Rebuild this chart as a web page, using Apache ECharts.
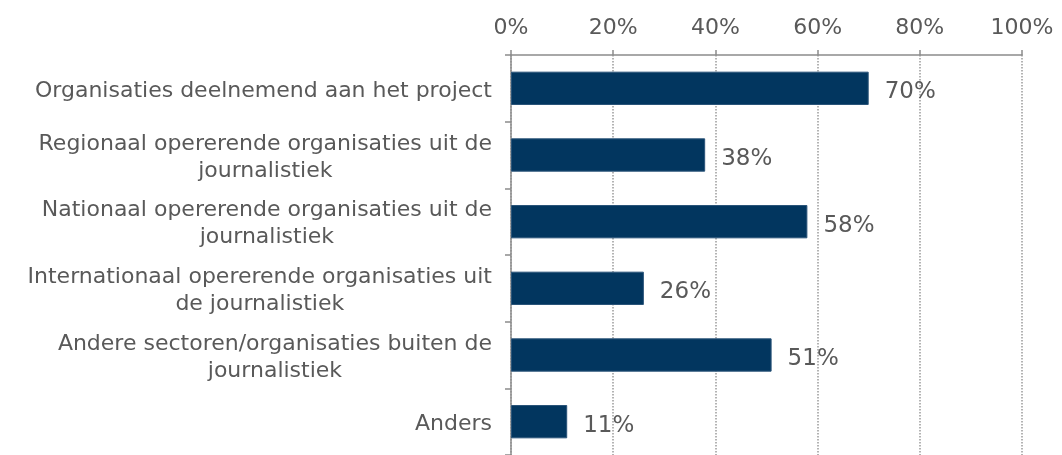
<!DOCTYPE html>
<html style="height: 100%">
<head>
<meta charset="utf-8">
<script src="https://cdn.jsdelivr.net/npm/echarts@6/dist/echarts.min.js"></script>
</head>
<body style="height: 100%; margin: 0; background: #fff;">
<div id="container" style="width: 1062px; height: 455px;"></div>
<script type="text/javascript">
var categories = [
        'Organisaties deelnemend aan het project',
        'Regionaal opererende organisaties uit de\njournalistiek',
        'Nationaal opererende organisaties uit de\njournalistiek',
        'Internationaal opererende organisaties uit\nde journalistiek',
        'Andere sectoren/organisaties buiten de\njournalistiek',
        'Anders'
];
var values = [70, 38, 58, 26, 51, 11];
var xTicks = [0, 20, 40, 60, 80, 100];

var textColor = '#595959';
var axisColor = '#8c8c8c';
var font = 'DejaVu Sans';

var myChart = echarts.init(document.getElementById('container'));

var option = {
        animation: false,
        grid: {
                left: 511,
                right: 40,
                top: 55,
                bottom: -6
        },
        xAxis: {
                type: 'value',
                position: 'top',
                min: xTicks[0],
                max: xTicks[xTicks.length - 1],
                interval: xTicks[1] - xTicks[0],
                axisLine: { show: true, lineStyle: { color: axisColor, width: 1.5 } },
                axisTick: { show: true, length: 5, lineStyle: { color: axisColor, width: 1.5 } },
                axisLabel: {
                        formatter: '{value}%',
                        color: textColor,
                        fontFamily: font,
                        fontSize: 22,
                        margin: 16
                },
                splitLine: { show: true, lineStyle: { color: '#9a9a9a', type: 'dotted', width: 1.5 } }
        },
        yAxis: {
                type: 'category',
                inverse: true,
                data: categories,
                axisLine: { show: true, lineStyle: { color: axisColor, width: 1.5 } },
                axisTick: { show: true, length: 6, lineStyle: { color: axisColor, width: 1.5 } },
                axisLabel: {
                        color: textColor,
                        fontFamily: font,
                        fontSize: 22,
                        margin: 19,
                        lineHeight: 27,
                        padding: [5, 0, 0, 0],
                        formatter: function (v) {
                                return v.split('\n').map(function (s) { return '{c|' + s + '}'; }).join('\n');
                        },
                        rich: {
                                c: { align: 'center', color: textColor, fontFamily: font, fontSize: 22, lineHeight: 27 }
                        }
                }
        },
        series: [{
                type: 'bar',
                data: values,
                barWidth: '50%',
                itemStyle: { color: '#02365f', borderColor: '#2a5479', borderWidth: 1 },
                label: {
                        show: true,
                        position: 'right',
                        distance: 16,
                        offset: [0, 4],
                        formatter: '{c}%',
                        color: textColor,
                        fontFamily: font,
                        fontSize: 23
                }
        }]
};

myChart.setOption(option);
</script>
</body>
</html>
